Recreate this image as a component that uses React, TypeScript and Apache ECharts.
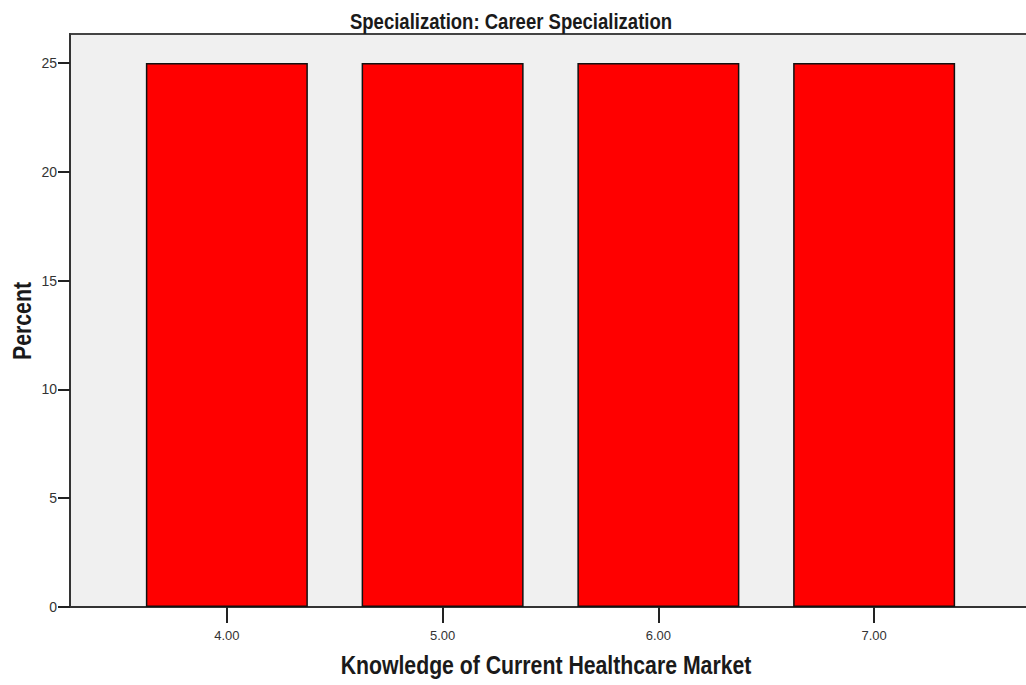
import React, { useEffect, useRef } from "react";
import * as echarts from "echarts";

const categories = [4, 5, 6, 7];
const tickLabels = ["4.00", "5.00", "6.00", "7.00"];
const percentValues = [25, 25, 25, 25];
const yTicks = [0, 5, 10, 15, 20, 25];

const titleText = "Specialization: Career Specialization";
const xName = "Knowledge of Current Healthcare Market";
const yName = "Percent";

const FONT = '"Liberation Sans", Arial, sans-serif';

export default function App() {
  const ref = useRef<HTMLDivElement>(null);
  useEffect(() => {
    document.body.style.margin = "0";
    const chart = echarts.init(ref.current!, null, { renderer: "svg" });
    chart.setOption({
      animation: false,
      backgroundColor: "#ffffff",
      graphic: [
        {
          type: "text",
          x: 511,
          y: 21,
          scaleX: 0.85,
          style: {
            text: titleText,
            font: `bold 21.8px ${FONT}`,
            fill: "#1a1a1a",
            textAlign: "center",
            textVerticalAlign: "middle",
          },
        },
        {
          type: "text",
          x: 546,
          y: 665,
          scaleX: 0.85,
          style: {
            text: xName,
            font: `bold 25px ${FONT}`,
            fill: "#1a1a1a",
            textAlign: "center",
            textVerticalAlign: "middle",
          },
        },
        {
          type: "text",
          x: 22,
          y: 321,
          rotation: Math.PI / 2,
          scaleX: 0.85,
          style: {
            text: yName,
            font: `bold 25px ${FONT}`,
            fill: "#1a1a1a",
            textAlign: "center",
            textVerticalAlign: "middle",
          },
        },
      ],
      grid: {
        left: 70,
        top: 34,
        width: 961,
        height: 573,
        outerBoundsMode: "none",
        containLabel: false,
        show: true,
        backgroundColor: "#f0f0f0",
        borderColor: "#444",
        borderWidth: 2,
      },
      xAxis: {
        type: "value",
        min: 3.273,
        max: 7.727,
        splitLine: { show: false },
        axisLine: { show: true, lineStyle: { color: "#333", width: 2 } },
        axisTick: { show: true, length: 16, lineStyle: { color: "#222", width: 2 }, customValues: categories },
        axisLabel: {
          customValues: categories,
          formatter: (v: number) => tickLabels[categories.indexOf(v)] ?? "",
          margin: 22,
          fontFamily: FONT,
          fontSize: 13,
          color: "#333",
        },
      },
      yAxis: {
        type: "value",
        min: 0,
        max: 26.33,
        splitLine: { show: false },
        axisLine: { show: true, lineStyle: { color: "#333", width: 2 } },
        axisTick: { show: true, length: 12, lineStyle: { color: "#222", width: 2 }, customValues: yTicks },
        axisLabel: {
          customValues: yTicks,
          margin: 13,
          fontFamily: FONT,
          fontSize: 14,
          color: "#333",
        },
      },
      series: [
        {
          type: "bar",
          data: categories.map((c, i) => [c, percentValues[i]]),
          barWidth: 162,
          itemStyle: { color: "#ff0000", borderColor: "#111", borderWidth: 1.5 },
        },
      ],
    });
    return () => chart.dispose();
  }, []);
  return <div ref={ref} style={{ width: 1026, height: 685 }} />;
}
